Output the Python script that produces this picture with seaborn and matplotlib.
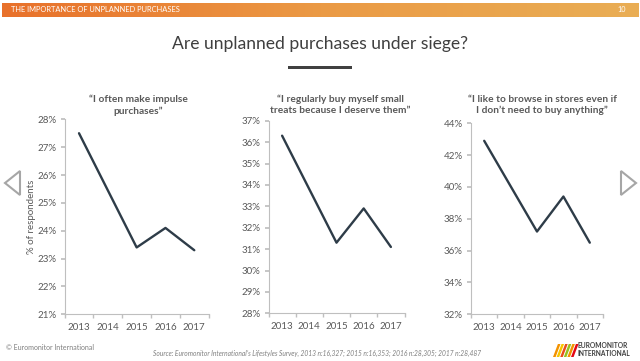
import numpy as np
import pandas as pd
import matplotlib.pyplot as plt
import seaborn as sns
from matplotlib.colors import LinearSegmentedColormap
from matplotlib.patches import Polygon, Rectangle
from matplotlib.ticker import FuncFormatter, FixedLocator

years = [2013, 2014, 2015, 2016, 2017]
impulse = [27.5, np.nan, 23.4, 24.1, 23.3]
treats = [36.3, np.nan, 31.3, 32.9, 31.1]
browse = [42.9, np.nan, 37.2, 39.4, 36.5]

panel_titles = [
    "\u201cI often make impulse\npurchases\u201d",
    "\u201cI regularly buy myself small\ntreats because I deserve them\u201d",
    "\u201cI like to browse in stores even if\nI don\u2019t need to buy anything\u201d",
]
y_ranges = [(21, 28, 1), (28, 37, 1), (32, 44, 2)]

LINE = "#2E3C48"
GREY_TXT = "#595959"
SPINE = "#BFBFBF"

sns.set_theme(style="white")
plt.rcParams["font.family"] = ["Lato", "DejaVu Sans"]

fig = plt.figure(figsize=(6.4, 3.61), dpi=100)
fig.patch.set_facecolor("white")

# --- orange header band ---
hdr = fig.add_axes([0.003, 1 - 17 / 361, 0.994, 14 / 361])
cmap = LinearSegmentedColormap.from_list("hdr", ["#E8712B", "#EB9A45", "#E9AE55"])
hdr.imshow(np.linspace(0, 1, 256)[None, :], aspect="auto", cmap=cmap)
hdr.axis("off")
fig.text(11 / 640, 1 - 9.5 / 361, "THE IMPORTANCE OF UNPLANNED PURCHASES",
         color="white", fontsize=5.4, va="center", ha="left")
fig.text(626 / 640, 1 - 9.5 / 361, "10", color="white", fontsize=5.2,
         va="center", ha="right")

# --- slide title + underline bar ---
fig.text(0.5, 1 - 44 / 361, "Are unplanned purchases under siege?",
         color="#3F3F3F", fontsize=12.6, ha="center", va="center")
fig.add_artist(Rectangle((288 / 640, 1 - 69 / 361), 64 / 640, 3.5 / 361,
                         transform=fig.transFigure, color="#404040", lw=0))

# --- the three line charts ---
boxes = [
    [64.6 / 640, 1 - 314.3 / 361, 144.1 / 640, 195.0 / 361],
    [268.5 / 640, 1 - 313.3 / 361, 136.0 / 640, 192.6 / 361],
    [471.0 / 640, 1 - 314.3 / 361, 132.0 / 640, 191.0 / 361],
]
series = [impulse, treats, browse]
title_x = [138, 340, 542]

for i, (box, vals, title, (lo, hi, step)) in enumerate(
        zip(boxes, series, panel_titles, y_ranges)):
    ax = fig.add_axes(box)
    df = pd.DataFrame({"year": years, "pct": vals}).dropna()
    sns.lineplot(data=df, x="year", y="pct", ax=ax, color=LINE, linewidth=1.7)

    ax.set_xlim(2012.5, 2017.5)
    ax.set_ylim(lo, hi)
    ax.set_yticks(np.arange(lo, hi + 0.01, step))
    ax.yaxis.set_major_formatter(FuncFormatter(lambda v, p: f"{v:.0f}%"))
    ax.set_xticks(years)
    ax.xaxis.set_minor_locator(FixedLocator(np.arange(2012.5, 2018, 1)))
    ax.tick_params(axis="x", which="major", length=0, labelsize=7,
                   labelcolor=GREY_TXT, pad=6)
    ax.tick_params(axis="x", which="minor", length=3, color=SPINE,
                   direction="out", bottom=True)
    ax.tick_params(axis="y", which="major", length=3, color=SPINE,
                   direction="out", left=True, labelsize=7,
                   labelcolor=GREY_TXT, pad=3)
    for side in ("top", "right"):
        ax.spines[side].set_visible(False)
    for side in ("left", "bottom"):
        ax.spines[side].set_color(SPINE)
        ax.spines[side].set_linewidth(0.8)
    ax.set_xlabel("")
    ax.set_ylabel("% of respondents" if i == 0 else "", fontsize=7,
                  color=GREY_TXT, labelpad=1)
    ax.set_facecolor("none")

    fig.text(title_x[i] / 640, 1 - 105 / 361, title, ha="center", va="center",
             fontsize=7.3, fontweight="bold", color=GREY_TXT, linespacing=1.35)

# --- navigation arrows ---
fig.add_artist(Polygon([(20 / 640, 1 - 171 / 361), (5 / 640, 1 - 183 / 361),
                        (20 / 640, 1 - 195 / 361)], closed=True, fill=False,
                       edgecolor="#A6A6A6", lw=1.5, transform=fig.transFigure))
fig.add_artist(Polygon([(621 / 640, 1 - 171 / 361), (636 / 640, 1 - 183 / 361),
                        (621 / 640, 1 - 195 / 361)], closed=True, fill=False,
                       edgecolor="#A6A6A6", lw=1.5, transform=fig.transFigure))

# --- footer ---
fig.text(6 / 640, 1 - 348 / 361, "\u00a9 Euromonitor International",
         fontsize=5, color="#7F7F7F", va="center")
fig.text(153 / 640, 1 - 353 / 361,
         "Source: Euromonitor International\u2019s Lifestyles Survey, 2013 n:16,327; "
         "2015 n:16,353; 2016 n:28,305; 2017 n:28,487",
         fontsize=4.8, style="italic", color="#7F7F7F", va="center")

# logo: slanted colour stripes + wordmark
stripe_cols = ["#F39200", "#F7C600", "#E94E1B", "#95C11F", "#F39200", "#E30613"]
for k, c in enumerate(stripe_cols):
    x0 = (553 + k * 3.6) / 640
    fig.add_artist(Polygon([(x0, 1 - 357 / 361), (x0 + 2.6 / 640, 1 - 357 / 361),
                            (x0 + 7.5 / 640, 1 - 344 / 361),
                            (x0 + 4.9 / 640, 1 - 344 / 361)],
                           closed=True, color=c, lw=0, transform=fig.transFigure))
fig.text(578 / 640, 1 - 346 / 361, "EUROMONITOR", fontsize=4.8,
         fontweight="bold", color="#3F3F3F", va="center")
fig.text(578 / 640, 1 - 353.5 / 361, "INTERNATIONAL", fontsize=4.8,
         fontweight="bold", color="#3F3F3F", va="center")

fig.savefig("out.png", dpi=100, facecolor="white")
